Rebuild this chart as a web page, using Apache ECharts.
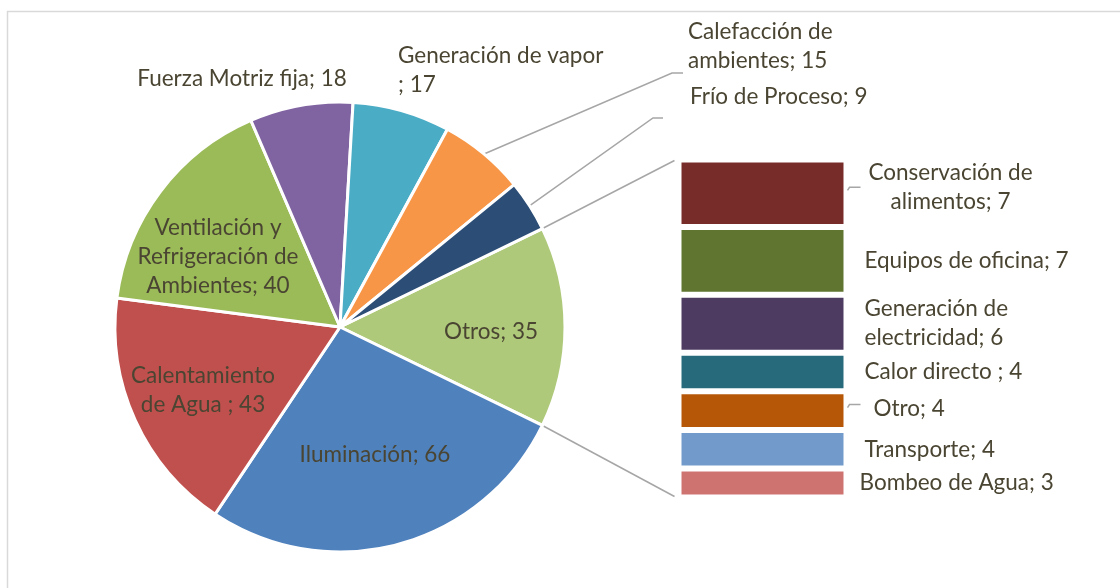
<!DOCTYPE html>
<html><head><meta charset="utf-8">
<script src="https://cdn.jsdelivr.net/npm/echarts@6/dist/echarts.min.js"></script>
<style>html,body{margin:0;padding:0;background:#fff}#c{width:1120px;height:588px}</style>
</head><body><div id="c"></div>
<script>
// ---- data ----
const pieNames = ['Otros','Iluminación','Calentamiento\nde Agua ','Ventilación y\nRefrigeración de\nAmbientes','Fuerza Motriz fija','Generación de vapor\n','Calefacción de\nambientes','Frío de Proceso'];
const pieValues = [35,66,43,40,18,17,15,9];
const pieColors = ['#AFC97A','#4F81BD','#C0504D','#9BBB59','#8064A2','#4BACC6','#F79646','#2C4D75'];
const barNames = ['Conservación de\nalimentos','Equipos de oficina','Generación de\nelectricidad','Calor directo ','Otro','Transporte','Bombeo de Agua'];
const barValues = [7,7,6,4,4,4,3];
const barColors = ['#772C2A','#5F7530','#4D3B62','#276A7C','#B65708','#729ACA','#CF7371'];

// ---- layout (not data) ----
const PIE = {cx:340, cy:327, r:225};
const GRID = {left:678.5, top:159.5, width:168, height:338};
const TXT = '#4A4532';
const FONT = 'Lato';
const FS = 22.5;
const LH = 29;
const LINE = '#A6A6A6';
// label anchors for pie labels [x, y, align]
const pieLabelAnchor = [[491,332,'center'],[375,455,'center'],[203,390,'center'],[218,257,'center'],[242,79,'center'],[398,70,'left'],[688,46,'left'],[690,97,'left']];
// leader line elbows for pie labels (index -> two points)
const pieLeader = {6:[[672,73],[683,73]], 7:[[653,118],[663,118]]};
// bar label distance / align / offset
const barLabelCfg = [
  {distance:104, align:'center', offset:[0,-6], leader:true},
  {distance:18, align:'left', offset:[0,0]},
  {distance:18, align:'left', offset:[0,0]},
  {distance:18, align:'left', offset:[0,0]},
  {distance:27, align:'left', offset:[0,-2], leader:true},
  {distance:18, align:'left', offset:[0,1]},
  {distance:13, align:'left', offset:[0,0]}
];

const total = pieValues.reduce((a,b)=>a+b,0);
const startAngle = pieValues[0]/total*180;
// mid angles (deg, math convention) of each slice
const midAngles = [];
{ let a = startAngle; pieValues.forEach(v=>{ const s=v/total*360; midAngles.push(a - s/2); a -= s; }); }

const chart = echarts.init(document.getElementById('c'), null, {renderer:'canvas'});

const barSeries = barNames.map((n,i)=>({
  type:'bar', name:n, stack:'s', barWidth:'100%', barCategoryGap:0,
  data:[barValues[i]],
  itemStyle:{color:barColors[i], borderColor:'#fff', borderWidth:3},
  label:{show:true, position:'right', distance:barLabelCfg[i].distance, align:barLabelCfg[i].align,
    offset:barLabelCfg[i].offset, formatter:'{a}; {c}', color:TXT, fontFamily:FONT, fontSize:FS, lineHeight:LH},
  emphasis:{disabled:true}, animation:false
}));

chart.setOption({
  animation:false,
  backgroundColor:'#fff',
  textStyle:{fontFamily:FONT},
  grid:{left:GRID.left, top:GRID.top, width:GRID.width, height:GRID.height},
  xAxis:{type:'category', data:['Otros'], show:false},
  yAxis:{type:'value', min:0, max:total - (total - pieValues[0]), inverse:true, show:false},
  series:[{
    type:'pie', center:[PIE.cx, PIE.cy], radius:PIE.r, startAngle:startAngle, clockwise:true,
    avoidLabelOverlap:false, animation:false,
    itemStyle:{borderColor:'#fff', borderWidth:3},
    label:{show:true, position:'outside', formatter:'{b}; {c}', color:TXT, fontFamily:FONT, fontSize:FS, lineHeight:LH},
    labelLine:{show:false, lineStyle:{color:LINE, width:1.5}},
    emphasis:{disabled:true},
    data:pieNames.map((n,i)=>({name:n, value:pieValues[i], itemStyle:{color:pieColors[i]},
      labelLine:{show: !!pieLeader[i], lineStyle:{color:LINE, width:1.5}}})),
    labelLayout:function(p){
      const i = p.dataIndex; const a = pieLabelAnchor[i];
      const o = {x:a[0], y:a[1], align:a[2], verticalAlign:'middle'};
      if (pieLeader[i]) {
        const rad = midAngles[i]*Math.PI/180;
        const p0 = [PIE.cx + (PIE.r-1)*Math.cos(rad), PIE.cy - (PIE.r-1)*Math.sin(rad)];
        o.labelLinePoints = [p0, pieLeader[i][0], pieLeader[i][1]];
      }
      return o;
    }
  }].concat(barSeries)
});

// decorative connector lines computed from layout
function edgePt(deg){ const r=deg*Math.PI/180; return [PIE.cx+(PIE.r-2)*Math.cos(r), PIE.cy-(PIE.r-2)*Math.sin(r)]; }
const aTop = startAngle, aBot = startAngle - pieValues[0]/total*360;
const barTopY = chart.convertToPixel({yAxisIndex:0}, 0);
const barBotY = chart.convertToPixel({yAxisIndex:0}, pieValues[0]);
const gfx = [
  {type:'rect', shape:{x:7.5, y:11.5, width:1300, height:800}, style:{fill:null, stroke:'#D9D9D9', lineWidth:1.5}, silent:true, z:-1},
  {type:'polyline', shape:{points:[edgePt(aTop), [GRID.left-4, barTopY+1]]}, style:{stroke:LINE, lineWidth:1.5, fill:null}},
  {type:'polyline', shape:{points:[edgePt(aBot), [GRID.left-4, barBotY-1]]}, style:{stroke:LINE, lineWidth:1.5, fill:null}}
];
{ let cum = 0; barValues.forEach((v,i)=>{
  if (barLabelCfg[i].leader) {
    const yc = chart.convertToPixel({yAxisIndex:0}, cum + v/2);
    const xr = GRID.left + GRID.width;
    gfx.push({type:'polyline', shape:{points:[[xr+1, yc-3],[xr+3, yc-6],[xr+14, yc-6]]}, style:{stroke:LINE, lineWidth:1.5, fill:null}});
  }
  cum += v; }); }
chart.setOption({graphic:gfx});
</script></body></html>
